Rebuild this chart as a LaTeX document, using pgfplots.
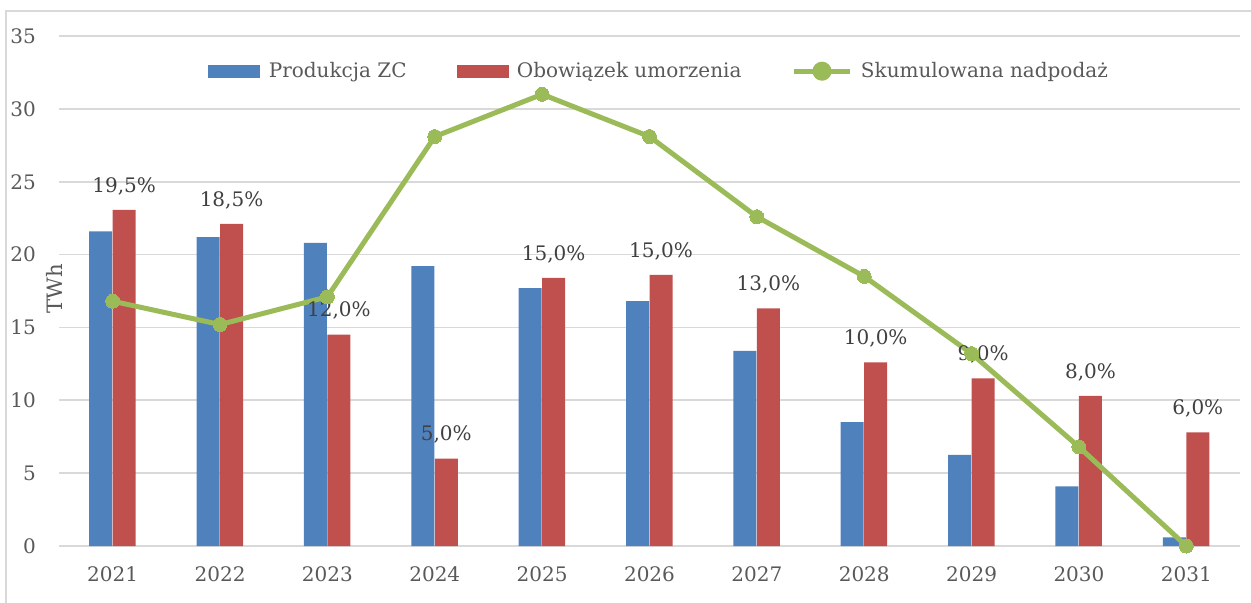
\documentclass[border=0pt]{standalone}
\usepackage{fontspec}
\setmainfont{DejaVu Serif}
\usepackage{pgfplots}
\pgfplotsset{compat=1.18}
\definecolor{cblue}{HTML}{4F81BD}
\definecolor{cred}{HTML}{C0504D}
\definecolor{cgreen}{HTML}{9BBB59}
\definecolor{ctext}{HTML}{595959}
\definecolor{clabel}{HTML}{404040}
\definecolor{cgrid}{HTML}{D9D9D9}
\begin{document}
\begin{tikzpicture}
\path[use as bounding box] (-29.5pt,-28pt) rectangle (596pt,273pt);
\draw[color=cgrid, line width=0.8pt] (-26.5pt,-40pt) -- (-26.5pt,267.5pt) -- (640pt,267.5pt);
\begin{axis}[
  at={(0,0)}, anchor=south west,
  scale only axis, width=590.5pt, height=255pt,
  xmin=-0.5, xmax=10.5, ymin=0, ymax=35,
  ytick={0,5,...,35},
  xtick={0,...,10},
  xticklabels={2021,2022,2023,2024,2025,2026,2027,2028,2029,2030,2031},
  /pgf/number format/assume math mode=true,
  axis line style={draw=none},
  major tick length=0pt,
  ymajorgrids, grid style={cgrid, line width=0.8pt},
  tick label style={font=\fontsize{10}{12}\selectfont, text=ctext},
  yticklabel style={xshift=-8pt},
  xticklabel style={yshift=-7pt},
  ybar, bar width=11.5pt,
  legend style={draw=none, fill=none, at={(0.509,0.931)}, anchor=center,
    font=\fontsize{10}{12}\selectfont, text=ctext,
    /tikz/every odd column/.append style={column sep=2.2pt},
    /tikz/every even column/.append style={column sep=23pt}},
  legend columns=3,
  clip=false,
]
\addplot[fill=cblue, draw=none, bar shift=-6pt,
  legend image code/.code={\fill[cblue] (0pt,-3.25pt) rectangle (26pt,3.25pt);}]
  coordinates {(0,21.6) (1,21.2) (2,20.8) (3,19.2) (4,17.7) (5,16.8) (6,13.4) (7,8.5) (8,6.25) (9,4.1) (10,0.6)};
\addlegendentry{Produkcja ZC}
\addplot[fill=cred, draw=none, bar shift=5.75pt,
  point meta=explicit symbolic,
  nodes near coords,
  every node near coord/.append style={font=\fontsize{10}{12}\selectfont, text=clabel, yshift=4pt},
  legend image code/.code={\fill[cred] (0pt,-3.25pt) rectangle (26pt,3.25pt);}]
  coordinates {(0,23.06) [19,5\%] (1,22.1) [18,5\%] (2,14.5) [12,0\%] (3,6.0) [5,0\%] (4,18.4) [15,0\%] (5,18.6) [15,0\%] (6,16.3) [13,0\%] (7,12.6) [10,0\%] (8,11.5) [9,0\%] (9,10.3) [8,0\%] (10,7.8) [6,0\%]};
\addlegendentry{Obowiązek umorzenia}
\addplot[sharp plot, color=cgreen, line width=2.5pt, mark=*, mark size=3.5pt,
  mark options={fill=cgreen, draw=cgreen, line width=0pt},
  legend image code/.code={\draw[cgreen, line width=2.5pt] (0pt,0pt) -- (28pt,0pt); \fill[cgreen] (14pt,0pt) circle (3.5pt);}]
  coordinates {(0,16.8) (1,15.2) (2,17.1) (3,28.1) (4,31.0) (5,28.1) (6,22.6) (7,18.5) (8,13.2) (9,6.8) (10,0)};
\addlegendentry{Skumulowana nadpodaż}
\node[rotate=90, text=ctext, font=\fontsize{10.6}{12}\selectfont] at ([xshift=-2.5pt]rel axis cs:0,0.504) {TWh};
\end{axis}
\end{tikzpicture}
\end{document}
